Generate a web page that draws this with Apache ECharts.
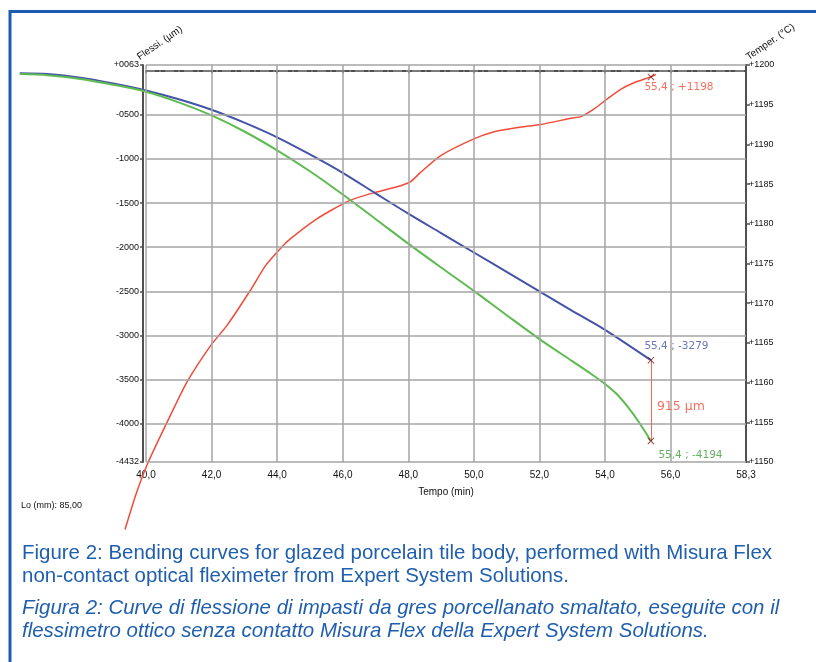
<!DOCTYPE html>
<html>
<head>
<meta charset="utf-8">
<script src="https://cdn.jsdelivr.net/npm/echarts@6/dist/echarts.min.js"></script>
<style>
html,body{margin:0;padding:0;background:#fff;}
#chart{width:816px;height:662px;}
</style>
</head>
<body>
<div id="chart"></div>
<script>
// ---- data ----
const timeTicks = [40, 42, 44, 46, 48, 50, 52, 54, 56, 58.3];
const xGridTicks = [40, 42, 44, 46, 48, 50, 52, 54, 56];
const flexTicks = [63, -500, -1000, -1500, -2000, -2500, -3000, -3500, -4000, -4432];
const flexGridTicks = [63, -500, -1000, -1500, -2000, -2500, -3000, -3500, -4000, -4432];

const blueTime = [36.15, 37, 38, 39, 40, 41, 42, 43, 44, 45, 46, 47, 48, 49, 50, 51, 52, 53, 54, 55.4];
const blueFlex = [-30, -40, -80, -145, -225, -325, -444, -590, -756, -950, -1158, -1390, -1620, -1840, -2060, -2280, -2500, -2720, -2935, -3279];

const greenTime = [36.15, 37, 38, 39, 40, 41, 42, 43, 44, 45, 46, 47, 48, 49, 50, 51, 52, 53, 53.5, 54, 54.35, 54.7, 55.05, 55.4];
const greenFlex = [-40, -52, -95, -160, -240, -360, -508, -690, -903, -1140, -1403, -1680, -1960, -2230, -2495, -2770, -3040, -3290, -3415, -3548, -3660, -3811, -3990, -4194];

const redTime = [39.36, 39.7, 40.07, 40.63, 41.24, 41.96, 42.47, 43.18, 43.64, 44.1, 44.4, 45.2, 46.14, 46.85, 47.77, 48.07, 48.38, 48.99, 50.0, 50.62, 51.44, 52.04, 52.97, 53.27, 53.68, 54.09, 54.5, 54.9, 55.4, 55.55];
const redTemp = [1141.5, 1146, 1150, 1154.9, 1160, 1164.6, 1167.2, 1171.6, 1174.7, 1176.9, 1178.1, 1180.6, 1182.8, 1183.8, 1184.8, 1185.3, 1186.5, 1188.6, 1190.7, 1191.6, 1192.2, 1192.5, 1193.3, 1193.5, 1194.5, 1195.8, 1197.0, 1197.8, 1198.5, 1198.8];

const endTime = 55.4;
const endBlue = -3279;
const endGreen = -4194;
const endTemp = 1198.5;

const captions = [
  'Figure 2: Bending curves for glazed porcelain tile body, performed with Misura Flex',
  'non-contact optical fleximeter from Expert System Solutions.',
  'Figura 2: Curve di flessione di impasti da gres porcellanato smaltato, eseguite con il',
  'flessimetro ottico senza contatto Misura Flex della Expert System Solutions.'
];

// ---- layout ----
const W = 816, H = 662;
const G = {left: 146, right: 70, top: 65, bottom: 200};           // visible plot frame
const GX = {left: 10, right: 70, top: 65, bottom: 112};           // drawing area (curves run past the frame)
const xMin = 40, xMax = 58.3, fMin = -4432, fMax = 63, tMin = 1150, tMax = 1200;
const plotW = W - G.left - G.right, plotH = H - G.top - G.bottom;
const drawW = W - GX.left - GX.right, drawH = H - GX.top - GX.bottom;
const xMinX = xMax - (xMax - xMin) * drawW / plotW;
const fMinX = fMax - (fMax - fMin) * drawH / plotH;
const tMinX = tMax - (tMax - tMin) * drawH / plotH;

const zip = (a, b) => a.map((v, i) => [v, b[i]]);
const fmtT = v => v.toFixed(1).replace('.', ',');
const fmtFlex = v => (v >= 0 ? '+' : '-') + String(Math.abs(v)).padStart(4, '0');

const BLUE = '#4553a8', GREEN = '#5dbb50', RED = '#f24b3a', GRID = '#a4a4a4', AXIS = '#505050', CAP = '#1f5fae';
const crossPath = 'path://M1,0L5,4L9,0L10,1L6,5L10,9L9,10L5,6L1,10L0,9L4,5L0,1Z';

const CAP_SIZE = 21;
const ctx = document.createElement('canvas').getContext('2d');
ctx.font = CAP_SIZE + 'px "Liberation Sans"';
const capScale = 750 / ctx.measureText(captions[0]).width;

const capY = [553, 576, 608, 631];
const capGraphics = captions.map((t, i) => ({
  type: 'text', x: 22, y: capY[i], scaleX: capScale,
  style: {text: t, fontFamily: 'Liberation Sans', fontSize: CAP_SIZE, fontStyle: i >= 2 ? 'italic' : 'normal', fill: CAP, textVerticalAlign: 'middle'}
}));

const hiddenAxis = {show: false, axisLine: {show: false}, axisTick: {show: false}, axisLabel: {show: false}, splitLine: {show: false}};

const chart = echarts.init(document.getElementById('chart'), null, {renderer: 'canvas'});
chart.setOption({
  animation: false,
  backgroundColor: '#fff',
  grid: [
    {left: G.left, right: G.right, top: G.top, bottom: G.bottom},
    {left: GX.left, right: GX.right, top: GX.top, bottom: GX.bottom}
  ],
  xAxis: [{
    type: 'value', gridIndex: 0, min: xMin, max: xMax, offset: 3,
    name: 'Tempo (min)', nameLocation: 'middle', nameGap: 22,
    nameTextStyle: {fontFamily: 'Liberation Sans', fontSize: 10, color: '#111'},
    axisLine: {show: true, lineStyle: {color: AXIS, width: 2}},
    axisTick: {show: true, length: 3, customValues: timeTicks, lineStyle: {color: AXIS, width: 1.5}},
    axisLabel: {customValues: timeTicks, formatter: fmtT, fontFamily: 'Liberation Sans', fontSize: 10, color: '#111', margin: 5},
    splitLine: {show: false}
  }, Object.assign({type: 'value', gridIndex: 1, min: xMinX, max: xMax}, hiddenAxis)],
  yAxis: [{
    type: 'value', gridIndex: 0, min: fMin, max: fMax, position: 'left', offset: 3,
    axisLine: {show: true, lineStyle: {color: AXIS, width: 2}},
    axisTick: {show: true, length: 3, customValues: flexTicks, lineStyle: {color: AXIS, width: 1.5}},
    axisLabel: {customValues: flexTicks, formatter: fmtFlex, fontFamily: 'Liberation Sans', fontSize: 9, color: '#111', margin: 4},
    splitLine: {show: false}
  }, {
    type: 'value', gridIndex: 0, min: tMin, max: tMax, interval: 5, position: 'right',
    axisLine: {show: true, lineStyle: {color: AXIS, width: 2}},
    axisTick: {show: true, length: 4, lineStyle: {color: AXIS, width: 1.5}},
    axisLabel: {formatter: v => '+' + v, fontFamily: 'Liberation Sans', fontSize: 9, color: '#111', margin: 3},
    splitLine: {show: false}
  },
  Object.assign({type: 'value', gridIndex: 1, min: fMinX, max: fMax}, hiddenAxis),
  Object.assign({type: 'value', gridIndex: 1, min: tMinX, max: tMax}, hiddenAxis)],
  series: [
    {
      name: 'grid', type: 'line', xAxisIndex: 0, yAxisIndex: 0, data: [], z: 1, silent: true,
      markLine: {
        silent: true, symbol: ['none', 'none'], label: {show: false},
        lineStyle: {color: GRID, width: 1.5, type: 'solid'},
        data: xGridTicks.map(v => ({xAxis: v})).concat(flexGridTicks.map(v => ({yAxis: v})))
      }
    },
    {
      name: 'zero', type: 'line', xAxisIndex: 0, yAxisIndex: 0, data: [], z: 2, silent: true,
      markLine: {
        silent: true, symbol: ['none', 'none'], label: {show: false},
        lineStyle: {color: '#7a7a7a', width: 2, type: [9, 4, 2, 4]},
        data: [{yAxis: 0}]
      }
    },
    {
      name: 'Temper.', type: 'line', xAxisIndex: 1, yAxisIndex: 3, clip: false, showSymbol: false, z: 3,
      smooth: 0.2, lineStyle: {color: RED, width: 1.5}, itemStyle: {color: RED},
      data: zip(redTime, redTemp)
    },
    {
      name: 'Flessi. 1', type: 'line', xAxisIndex: 1, yAxisIndex: 2, clip: false, showSymbol: false, z: 4,
      smooth: 0.3, lineStyle: {color: BLUE, width: 2}, itemStyle: {color: BLUE},
      data: zip(blueTime, blueFlex),
      markLine: {
        silent: true, symbol: ['none', 'none'], label: {show: false},
        lineStyle: {color: '#f26a5a', width: 1, type: 'solid'},
        data: [[{coord: [endTime, endBlue]}, {coord: [endTime, endGreen]}]]
      }
    },
    {
      name: 'Flessi. 2', type: 'line', xAxisIndex: 1, yAxisIndex: 2, clip: false, showSymbol: false, z: 4,
      smooth: 0.3, lineStyle: {color: GREEN, width: 2}, itemStyle: {color: GREEN},
      data: zip(greenTime, greenFlex)
    },
    {
      name: 'endFlex', type: 'scatter', xAxisIndex: 1, yAxisIndex: 2, z: 6, symbol: crossPath, symbolSize: 7,
      itemStyle: {color: '#6e1a1a'},
      data: [
        {value: [endTime, endBlue], label: {show: true, position: [-3, -10], color: BLUE}},
        {value: [endTime, endGreen], label: {show: true, position: [11, 18], color: '#3d9c3a'}}
      ],
      label: {
        formatter: p => fmtT(p.value[0]) + ' ; ' + (p.value[1] >= 0 ? '+' : '') + p.value[1],
        fontFamily: 'DejaVu Sans', fontSize: 10.5, align: 'left', verticalAlign: 'middle'
      }
    },
    {
      name: 'endTemp', type: 'scatter', xAxisIndex: 1, yAxisIndex: 3, z: 6, symbol: crossPath, symbolSize: 7,
      itemStyle: {color: '#6e1a1a'},
      data: [{value: [endTime, endTemp]}],
      label: {
        show: true, position: [-3, 14], color: RED,
        formatter: p => fmtT(p.value[0]) + ' ; +' + Math.floor(p.value[1]),
        fontFamily: 'DejaVu Sans', fontSize: 10.5, align: 'left', verticalAlign: 'middle'
      }
    },
    {
      name: 'diff', type: 'scatter', xAxisIndex: 1, yAxisIndex: 2, z: 6, symbolSize: 0,
      data: [[endTime, (endBlue + endGreen) / 2]],
      label: {
        show: true, position: [6, 6], color: RED,
        formatter: () => (endBlue - endGreen) + ' \u00b5m',
        fontFamily: 'DejaVu Sans', fontSize: 12.5, align: 'left', verticalAlign: 'middle'
      }
    }
  ],
  graphic: [
    {type: 'line', shape: {x1: 10, y1: 11.5, x2: W, y2: 11.5}, style: {stroke: '#1a5cb0', lineWidth: 3}, z: 10},
    {type: 'line', shape: {x1: 10, y1: 10, x2: 10, y2: H}, style: {stroke: '#1a5cb0', lineWidth: 3}, z: 10},
    {type: 'text', x: 141, y: 62, rotation: 0.6, style: {text: 'Flessi. (\u00b5m)', fontFamily: 'Liberation Sans', fontSize: 10, fill: '#111', textVerticalAlign: 'bottom'}},
    {type: 'text', x: 750, y: 62, rotation: 0.6, style: {text: 'Temper. (\u00b0C)', fontFamily: 'Liberation Sans', fontSize: 10, fill: '#111', textVerticalAlign: 'bottom'}},
    {type: 'text', x: 21, y: 506, style: {text: 'Lo (mm): 85,00', fontFamily: 'Liberation Sans', fontSize: 9, fill: '#111', textVerticalAlign: 'middle'}}
  ].concat(capGraphics)
});
</script>
</body>
</html>
